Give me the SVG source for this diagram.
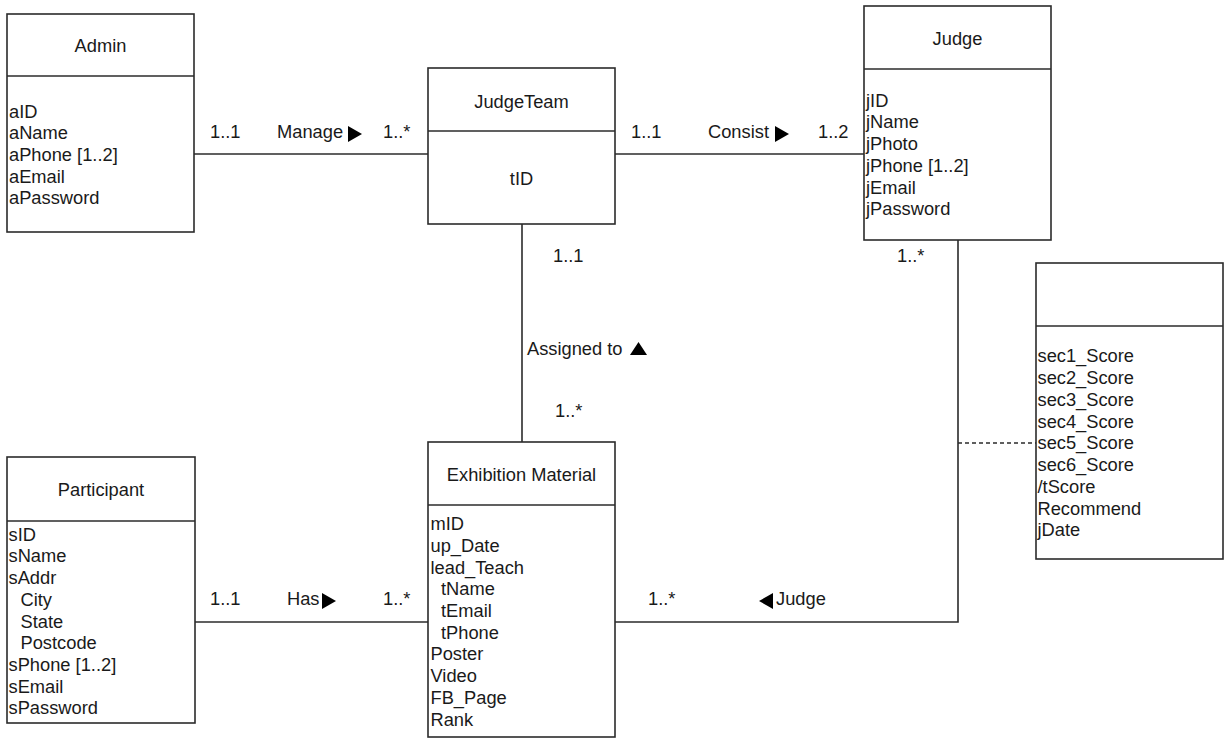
<svg xmlns="http://www.w3.org/2000/svg" xmlns:xlink="http://www.w3.org/1999/xlink" width="1225" height="738" viewBox="0 0 1225 738">
  <style>
    .box { fill: #ffffff; stroke: #2b2b2b; stroke-width: 1.6; }
    .div { stroke: #2b2b2b; stroke-width: 1.6; }
    .ln { stroke: #2b2b2b; stroke-width: 1.6; fill: none; }
    .dash { stroke: #2b2b2b; stroke-width: 1.3; fill: none; stroke-dasharray: 4 3; }
    text { font-family: "Liberation Sans", Arial, sans-serif; font-size: 18.3px; fill: #1a1a1a; }
    .title { text-anchor: middle; }
    .tri { fill: #000000; }
  </style>
  <defs>
    <path id="tri-right" d="M0,0 L14,8 L0,16 Z"/>
    <path id="tri-left" d="M14,0 L0,8 L14,16 Z"/>
    <path id="tri-up" d="M0,13 L8.5,0 L17,13 Z"/>
  </defs>

  <rect width="1225" height="738" fill="#ffffff"/>

  <!-- associations -->
  <g id="connectors">
    <!-- Admin - JudgeTeam -->
    <line class="ln" x1="194" y1="154" x2="428" y2="154"/>
    <text x="210" y="138.3">1..1</text>
    <text x="277" y="138.3">Manage</text>
    <use class="tri" href="#tri-right" x="348" y="126"/>
    <text x="383" y="138.3">1..*</text>

    <!-- JudgeTeam - Judge -->
    <line class="ln" x1="615" y1="154" x2="864" y2="154"/>
    <text x="631" y="138.3">1..1</text>
    <text x="708" y="138.3">Consist</text>
    <use class="tri" href="#tri-right" x="775" y="126"/>
    <text x="818" y="138.3">1..2</text>

    <!-- JudgeTeam - Exhibition Material -->
    <line class="ln" x1="522" y1="224" x2="522" y2="442"/>
    <text x="553" y="262.3">1..1</text>
    <text x="527" y="355">Assigned to</text>
    <use class="tri" href="#tri-up" x="630" y="342"/>
    <text x="555" y="417">1..*</text>

    <!-- Participant - Exhibition Material -->
    <line class="ln" x1="195" y1="622" x2="428" y2="622"/>
    <text x="210" y="605">1..1</text>
    <text x="287" y="605">Has</text>
    <use class="tri" href="#tri-right" x="322" y="593"/>
    <text x="383" y="605">1..*</text>

    <!-- Judge - Exhibition Material -->
    <polyline class="ln" points="958,240 958,622 615,622"/>
    <text x="897" y="261.7">1..*</text>
    <text x="648" y="605">1..*</text>
    <use class="tri" href="#tri-left" x="759" y="593"/>
    <text x="776" y="605">Judge</text>

    <!-- association class link -->
    <line class="dash" x1="958" y1="443" x2="1036" y2="443"/>
  </g>

  <g id="admin">
    <rect class="box" x="7" y="14" width="187" height="218"/>
    <line class="div" x1="7" y1="76" x2="194" y2="76"/>
    <text class="title" x="100.5" y="52.3">Admin</text>
    <text x="9" y="117.5">aID</text>
    <text x="9" y="139.2">aName</text>
    <text x="9" y="160.9">aPhone [1..2]</text>
    <text x="9" y="182.6">aEmail</text>
    <text x="9" y="204.3">aPassword</text>
  </g>

  <g id="judge-team">
    <rect class="box" x="428" y="68" width="187" height="156"/>
    <line class="div" x1="428" y1="131" x2="615" y2="131"/>
    <text class="title" x="521.5" y="107.7">JudgeTeam</text>
    <text class="title" x="521.5" y="185">tID</text>
  </g>

  <g id="judge">
    <rect class="box" x="864" y="6" width="187" height="234"/>
    <line class="div" x1="864" y1="69" x2="1051" y2="69"/>
    <text class="title" x="957.5" y="45">Judge</text>
    <text x="866" y="106.7">jID</text>
    <text x="866" y="128.4">jName</text>
    <text x="866" y="150.1">jPhoto</text>
    <text x="866" y="171.8">jPhone [1..2]</text>
    <text x="866" y="193.5">jEmail</text>
    <text x="866" y="215.2">jPassword</text>
  </g>

  <g id="evaluation">
    <rect class="box" x="1036" y="263" width="187" height="296"/>
    <line class="div" x1="1036" y1="326" x2="1223" y2="326"/>
    <text x="1037.5" y="362.3">sec1_Score</text>
    <text x="1037.5" y="384">sec2_Score</text>
    <text x="1037.5" y="405.8">sec3_Score</text>
    <text x="1037.5" y="427.5">sec4_Score</text>
    <text x="1037.5" y="449.3">sec5_Score</text>
    <text x="1037.5" y="471">sec6_Score</text>
    <text x="1037.5" y="492.8">/tScore</text>
    <text x="1037.5" y="514.5">Recommend</text>
    <text x="1037.5" y="536.3">jDate</text>
  </g>

  <g id="participant">
    <rect class="box" x="7" y="457" width="188" height="266"/>
    <line class="div" x1="7" y1="521" x2="195" y2="521"/>
    <text class="title" x="101" y="496">Participant</text>
    <text x="8.5" y="540.7">sID</text>
    <text x="8.5" y="562.4">sName</text>
    <text x="8.5" y="584.1">sAddr</text>
    <text x="20.5" y="605.8">City</text>
    <text x="20.5" y="627.5">State</text>
    <text x="20.5" y="649.2">Postcode</text>
    <text x="8.5" y="670.9">sPhone [1..2]</text>
    <text x="8.5" y="692.6">sEmail</text>
    <text x="8.5" y="714.3">sPassword</text>
  </g>

  <g id="exhibition-material">
    <rect class="box" x="428" y="442" width="187" height="295"/>
    <line class="div" x1="428" y1="505" x2="615" y2="505"/>
    <text class="title" x="521.5" y="480.7">Exhibition Material</text>
    <text x="430.5" y="530">mID</text>
    <text x="430.5" y="551.7">up_Date</text>
    <text x="430.5" y="573.5">lead_Teach</text>
    <text x="441" y="595.2">tName</text>
    <text x="441" y="617">tEmail</text>
    <text x="441" y="638.7">tPhone</text>
    <text x="430.5" y="660.4">Poster</text>
    <text x="430.5" y="682.2">Video</text>
    <text x="430.5" y="703.9">FB_Page</text>
    <text x="430.5" y="725.7">Rank</text>
  </g>
</svg>
